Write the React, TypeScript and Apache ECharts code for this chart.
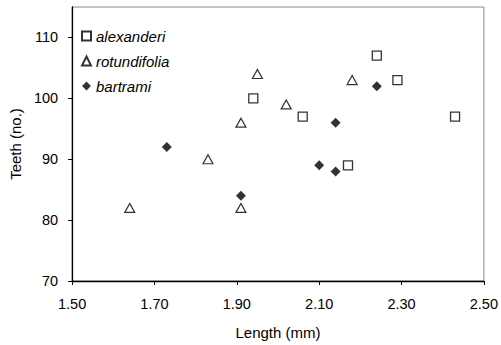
import React, { useEffect, useRef } from "react";
import * as echarts from "echarts";

const seriesNames = ["alexanderi", "rotundifolia", "bartrami"];
const alexanderiX = [1.94, 2.06, 2.17, 2.24, 2.29, 2.43];
const alexanderiY = [100, 97, 89, 107, 103, 97];
const rotundifoliaX = [1.64, 1.91, 1.83, 1.91, 1.95, 2.02, 2.18];
const rotundifoliaY = [82, 82, 90, 96, 104, 99, 103];
const bartramiX = [1.73, 1.91, 2.1, 2.14, 2.14, 2.24];
const bartramiY = [92, 84, 89, 88, 96, 102];
const yTicks = [70, 80, 90, 100, 110];
const xTicks = [1.5, 1.7, 1.9, 2.1, 2.3, 2.5];

const pair = (xs: number[], ys: number[]) => xs.map((x, i) => [x, ys[i]]);

const FONT = "Liberation Sans";

export default function App() {
  const ref = useRef<HTMLDivElement>(null);
  useEffect(() => {
    const chart = echarts.init(ref.current!, null, { renderer: "svg" });
    chart.setOption({
      animation: false,
      backgroundColor: "#fff",
      grid: {
        left: 68,
        top: 7,
        width: 418,
        height: 275,
        show: true,
        borderColor: "#888",
        borderWidth: 1,
      },
      legend: {
        orient: "vertical",
        left: 81,
        top: 28.5,
        padding: 0,
        itemWidth: 9,
        itemHeight: 9,
        itemGap: 10,
        textStyle: {
          fontFamily: FONT,
          fontStyle: "italic",
          fontSize: 15,
          color: "#000",
        },
        data: seriesNames,
      },
      xAxis: {
        type: "value",
        min: 1.5,
        max: 2.5,
        interval: 0.2,
        name: "Length (mm)",
        nameLocation: "middle",
        nameGap: 44,
        nameTextStyle: { fontFamily: FONT, fontSize: 15, color: "#000" },
        splitLine: { show: false },
        axisLine: { lineStyle: { color: "#000", width: 1.3 } },
        axisTick: { show: true, length: 4, lineStyle: { color: "#000" }, customValues: xTicks },
        axisLabel: {
          customValues: xTicks,
          fontFamily: FONT,
          fontSize: 14.5,
          color: "#000",
          margin: 15,
          formatter: (v: number) => v.toFixed(2),
        },
      },
      yAxis: {
        type: "value",
        min: 70,
        max: 115,
        interval: 10,
        name: "Teeth (no.)",
        nameLocation: "middle",
        nameGap: 44,
        nameTextStyle: { fontFamily: FONT, fontSize: 15, color: "#000" },
        splitLine: { show: false },
        axisLine: { show: true, lineStyle: { color: "#000", width: 1.3 } },
        axisTick: { show: true, length: 4, lineStyle: { color: "#000" }, customValues: yTicks },
        axisLabel: {
          customValues: yTicks,
          fontFamily: FONT,
          fontSize: 14.5,
          color: "#000",
          margin: 14,
        },
      },
      series: [
        {
          name: seriesNames[0],
          type: "scatter",
          symbol: "rect",
          symbolSize: 9,
          itemStyle: { color: "#fff", borderColor: "#000", borderWidth: 1.3 },
          data: pair(alexanderiX, alexanderiY),
        },
        {
          name: seriesNames[1],
          type: "scatter",
          symbol: "triangle",
          symbolSize: [10, 9],
          itemStyle: { color: "#fff", borderColor: "#000", borderWidth: 1.2 },
          data: pair(rotundifoliaX, rotundifoliaY),
        },
        {
          name: seriesNames[2],
          type: "scatter",
          symbol: "diamond",
          symbolSize: 10,
          itemStyle: { color: "#000" },
          data: pair(bartramiX, bartramiY),
        },
      ],
    });
    return () => chart.dispose();
  }, []);
  return (
    <div
      ref={ref}
      style={{ position: "absolute", left: 0, top: 0, width: 501, height: 345 }}
    />
  );
}
